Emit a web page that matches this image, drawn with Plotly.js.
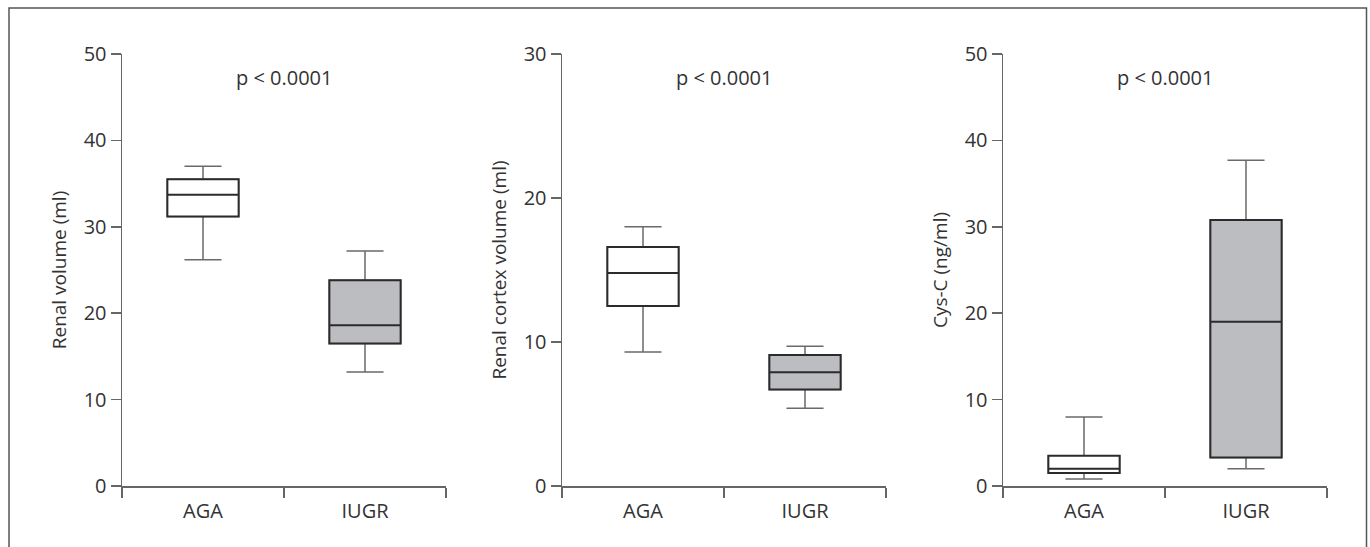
<!DOCTYPE html>
<html>
<head>
<meta charset="utf-8">
<script src="https://cdn.plot.ly/plotly-3.0.1.min.js"></script>
<style>html,body{margin:0;padding:0;background:#fff;}#chart{width:1370px;height:547px;}</style>
</head>
<body>
<div id="chart"></div>
<script>
// ---- data ----
const categories = ["AGA", "IUGR"];
const pLabel = "p < 0.0001";

const yTitles = ["Renal volume (ml)", "Renal cortex volume (ml)", "Cys-C (ng/ml)"];
const yMax = [50, 30, 50];

// per panel: [AGA, IUGR]
const lowerWhisker = [[26.2, 13.2], [9.3, 5.4], [0.8, 2.0]];
const q1Values     = [[31.2, 16.5], [12.5, 6.7], [1.5, 3.3]];
const medianValues = [[33.7, 18.6], [14.8, 7.9], [2.0, 19.0]];
const q3Values     = [[35.5, 23.8], [16.6, 9.1], [3.5, 30.8]];
const upperWhisker = [[37.0, 27.2], [18.0, 9.7], [8.0, 37.7]];

// ---- styling ----
const W = 1370, H = 547;
const fills = ["#ffffff", "#bcbdc1"];
const font = "Open Sans, Noto Sans, DejaVu Sans, sans-serif";
const panelsPx = [[122, 446], [562, 886], [1003, 1327]];
const yTopPx = 54, yBotPx = 486;

const traces = [];
const layout = {
  width: W, height: H,
  margin: {l: 0, r: 0, t: 0, b: 0},
  paper_bgcolor: "#ffffff", plot_bgcolor: "#ffffff",
  showlegend: false,
  boxmode: "overlay",
  font: {family: font, color: "#333333", size: 17},
  annotations: [],
  shapes: [{
    type: "rect", xref: "paper", yref: "paper",
    x0: 9 / W, x1: 1366.5 / W, y0: -0.05, y1: 1 - 8 / H,
    line: {color: "#555555", width: 1.5}
  }]
};

for (let p = 0; p < 3; p++) {
  const xa = p === 0 ? "x" : "x" + (p + 1);
  const ya = p === 0 ? "y" : "y" + (p + 1);
  for (let g = 0; g < 2; g++) {
    // whiskers layer (thin grey)
    traces.push({
      type: "box", x: [categories[g]], xaxis: xa, yaxis: ya,
      q1: [q1Values[p][g]], median: [medianValues[p][g]], q3: [q3Values[p][g]],
      lowerfence: [lowerWhisker[p][g]], upperfence: [upperWhisker[p][g]],
      fillcolor: fills[g], line: {color: "#6a6a6a", width: 1.5},
      width: 0.44, whiskerwidth: 0.52, hoverinfo: "skip"
    });
    // box layer (dark outline)
    traces.push({
      type: "box", x: [categories[g]], xaxis: xa, yaxis: ya,
      q1: [q1Values[p][g]], median: [medianValues[p][g]], q3: [q3Values[p][g]],
      lowerfence: [q1Values[p][g]], upperfence: [q3Values[p][g]],
      fillcolor: fills[g], line: {color: "#2b2b2b", width: 2},
      width: 0.44, whiskerwidth: 0, hoverinfo: "skip"
    });
  }
  const xKey = p === 0 ? "xaxis" : "xaxis" + (p + 1);
  const yKey = p === 0 ? "yaxis" : "yaxis" + (p + 1);
  layout[xKey] = {
    domain: [panelsPx[p][0] / W, panelsPx[p][1] / W],
    anchor: ya, type: "category", categoryorder: "array", categoryarray: categories,
    range: [-0.5, 1.5], tickson: "boundaries",
    ticks: "outside", ticklen: 10, tickwidth: 1.5, tickcolor: "#666666",
    showline: true, linecolor: "#666666", linewidth: 1.5,
    showgrid: false, zeroline: false, fixedrange: true,
    ticklabelstandoff: 6,
    tickfont: {size: 20, color: "#333333", family: font}
  };
  layout[yKey] = {
    domain: [(H - yBotPx) / H, (H - yTopPx) / H],
    anchor: xa, range: [0, yMax[p]], dtick: 10, tick0: 0,
    ticks: "outside", ticklen: 10, tickwidth: 1.5, tickcolor: "#666666",
    showline: true, linecolor: "#666666", linewidth: 1.5,
    showgrid: false, zeroline: false, fixedrange: true,
    tickfont: {size: 20, color: "#333333", family: font},
    title: {text: yTitles[p], font: {size: 19, color: "#333333", family: font}, standoff: 12}
  };
  layout.annotations.push({
    text: pLabel, xref: xa + " domain", yref: "paper",
    x: 0.5, y: 1 - 77 / H, xanchor: "center", yanchor: "middle",
    showarrow: false, font: {size: 20, color: "#333333", family: font}
  });
}

Plotly.newPlot("chart", traces, layout, {staticPlot: true, displayModeBar: false});
</script>
</body>
</html>
